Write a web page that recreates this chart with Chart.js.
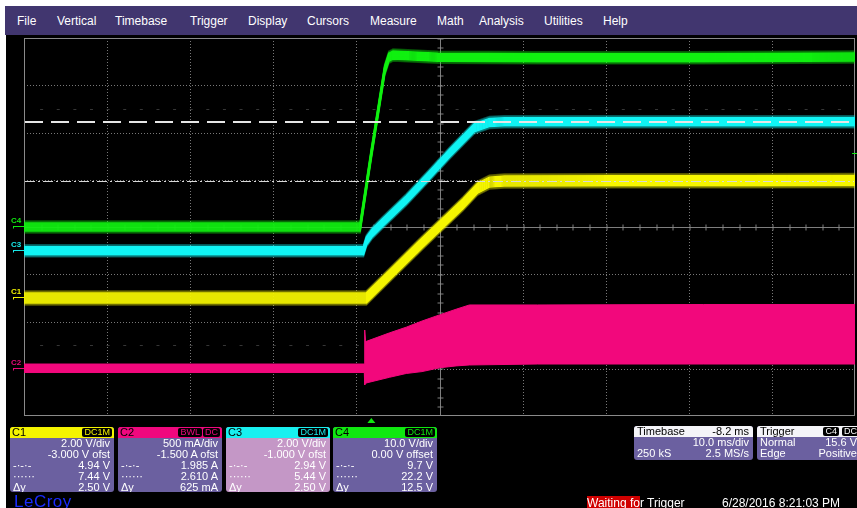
<!DOCTYPE html>
<html>
<head>
<meta charset="utf-8">
<script src="https://cdn.jsdelivr.net/npm/chart.js@4.4.0/dist/chart.umd.min.js"></script>
<style>
  html, body { margin: 0; padding: 0; background: #fff; }
  #scope { position: relative; width: 857px; height: 508px; overflow: hidden; background: #fff;
           font-family: "Liberation Sans", Arial, sans-serif; }
  #screen { position: absolute; left: 6px; top: 6px; width: 851px; height: 502px; background: #000; }
  #menu { position: absolute; left: 5px; top: 6px; width: 852px; height: 29px; background: #41366f; color: #fff; font-size: 12px; }
  #menu span { position: absolute; top: 8px; line-height: 14px; }
  #wave { position: absolute; left: 0; top: 0; }
  .ch { position: absolute; top: 427px; width: 104px; height: 65px; border-radius: 3px; background: #6b60a0;
        color: #fff; font-size: 11px; overflow: hidden; }
  .hd { height: 11px; line-height: 11px; color: #000; position: relative; }
  .hd .nm { position: absolute; left: 2px; top: 0; }
  .bd { position: absolute; top: 1px; height: 9px; line-height: 9px; font-size: 9px; background: #000;
        border-radius: 2px; padding: 0 2px; }
  .row { height: 11px; line-height: 11px; position: relative; }
  .row .r { position: absolute; right: 4px; }
  .row .l { position: absolute; left: 3px; }
  .box { position: absolute; top: 426px; height: 34px; border-radius: 3px; background: #6b60a0; color: #fff; font-size: 11px; overflow: hidden; }
  .box .row { height: 11px; }
  .box .hrow { background: #f4f4f8; color: #000; }
  #status { position: absolute; left: 587px; top: 497px; color: #fff; font-size: 12px; line-height: 13px; white-space: nowrap; }
  #status b { font-weight: normal; background: #d00000; }
  #date { position: absolute; left: 722px; top: 497px; color: #fff; font-size: 12px; line-height: 13px; white-space: nowrap; }
  #logo { position: absolute; left: 14px; top: 493px; color: #1a2cff; font-size: 17px; line-height: 17px; letter-spacing: 0.5px; }
</style>
</head>
<body>
<div id="scope">
  <div id="screen"></div>
  <canvas id="wave" width="857" height="508"></canvas>
  <div id="menu">
    <span style="left:12px">File</span>
    <span style="left:52px">Vertical</span>
    <span style="left:110px">Timebase</span>
    <span style="left:185px">Trigger</span>
    <span style="left:243px">Display</span>
    <span style="left:302px">Cursors</span>
    <span style="left:365px">Measure</span>
    <span style="left:432px">Math</span>
    <span style="left:474px">Analysis</span>
    <span style="left:539px">Utilities</span>
    <span style="left:598px">Help</span>
  </div>

  <div class="ch" style="left:10px">
    <div class="hd" style="background:#f4f400"><span class="nm">C1</span><span class="bd" style="right:2px;color:#f4f400">DC1M</span></div>
    <div class="row"><span class="r">2.00 V/div</span></div>
    <div class="row"><span class="r">-3.000 V ofst</span></div>
    <div class="row"><span class="l">-·-·-</span><span class="r">4.94 V</span></div>
    <div class="row"><span class="l">······</span><span class="r">7.44 V</span></div>
    <div class="row"><span class="l">Δy</span><span class="r">2.50 V</span></div>
  </div>
  <div class="ch" style="left:118px">
    <div class="hd" style="background:#f0087e"><span class="nm">C2</span><span class="bd" style="right:20px;color:#f0087e">BWL</span><span class="bd" style="right:2px;color:#f0087e">DC</span></div>
    <div class="row"><span class="r">500 mA/div</span></div>
    <div class="row"><span class="r">-1.500 A ofst</span></div>
    <div class="row"><span class="l">-·-·-</span><span class="r">1.985 A</span></div>
    <div class="row"><span class="l">······</span><span class="r">2.610 A</span></div>
    <div class="row"><span class="l">Δy</span><span class="r">625 mA</span></div>
  </div>
  <div class="ch" style="left:226px;background:#c497c6">
    <div class="hd" style="background:#18f0f0"><span class="nm">C3</span><span class="bd" style="right:2px;color:#18f0f0">DC1M</span></div>
    <div class="row"><span class="r">2.00 V/div</span></div>
    <div class="row"><span class="r">-1.000 V ofst</span></div>
    <div class="row"><span class="l">-·-·-</span><span class="r">2.94 V</span></div>
    <div class="row"><span class="l">······</span><span class="r">5.44 V</span></div>
    <div class="row"><span class="l">Δy</span><span class="r">2.50 V</span></div>
  </div>
  <div class="ch" style="left:333px">
    <div class="hd" style="background:#10e810"><span class="nm">C4</span><span class="bd" style="right:2px;color:#10e810">DC1M</span></div>
    <div class="row"><span class="r">10.0 V/div</span></div>
    <div class="row"><span class="r">0.00 V offset</span></div>
    <div class="row"><span class="l">-·-·-</span><span class="r">9.7 V</span></div>
    <div class="row"><span class="l">······</span><span class="r">22.2 V</span></div>
    <div class="row"><span class="l">Δy</span><span class="r">12.5 V</span></div>
  </div>

  <div class="box" style="left:634px;width:119px">
    <div class="row hrow"><span class="l">Timebase</span><span class="r">-8.2 ms</span></div>
    <div class="row"><span class="r">10.0 ms/div</span></div>
    <div class="row"><span class="l">250 kS</span><span class="r">2.5 MS/s</span></div>
  </div>
  <div class="box" style="left:757px;width:104px">
    <div class="row hrow"><span class="l">Trigger</span><span class="bd" style="right:22px;color:#fff">C4</span><span class="bd" style="right:2px;color:#fff">DC</span></div>
    <div class="row"><span class="l">Normal</span><span class="r">15.6 V</span></div>
    <div class="row"><span class="l">Edge</span><span class="r">Positive</span></div>
  </div>

  <div id="logo">LeCroy</div>
  <div id="status"><b>Waiting fo</b>r Trigger</div>
  <div id="date">6/28/2016 8:21:03 PM</div>
</div>

<script>
// Horizontal: 10 ms/div over 10 divisions, trigger delay -8.2 ms
const timeMin = -41.8;
const timeMax = 58.2;
const msPerDiv = 10;

// C1 (yellow) — volts
const c1Time  = [-41.8, -0.6, 2.2, 6.1, 11.0, 12.8, 14.2, 16.0, 30.0, 45.0, 58.2];
const c1Volts = [0.0, 0.0, 0.97, 2.32, 3.97, 4.65, 4.90, 4.95, 4.96, 4.96, 4.97];

// C3 (cyan) — volts
const c3Time  = [-41.8, -0.95, -0.6, 0.1, 1.3, 4.2, 7.0, 9.4, 12.4, 14.2, 16.0, 30.0, 45.0, 58.2];
const c3Volts = [0.0, 0.0, 0.40, 0.75, 1.17, 2.15, 3.20, 4.12, 5.20, 5.42, 5.45, 5.45, 5.46, 5.46];

// C4 (green) — volts
const c4Time  = [-41.8, -1.35, 0.0, 1.6, 2.1, 2.6, 5.0, 8.0, 20.0, 40.0, 58.2];
const c4Volts = [0.0, 0.0, 15.6, 33.2, 35.9, 36.4, 36.2, 35.9, 35.8, 35.8, 36.0];

// C2 (pink) — amps, ripple envelope (upper / lower)
const c2Time   = [-41.8, -0.85, -0.8, -0.7, -0.6, 2.2, 4.2, 6.1, 8.2, 10.2, 11.8, 20.0, 40.0, 58.2];
const c2UpperA = [0.05, 0.05, 0.41, 0.30, 0.29, 0.38, 0.44, 0.505, 0.57, 0.63, 0.675, 0.675, 0.68, 0.68];
const c2LowerA = [-0.04, -0.04, -0.17, -0.16, -0.15, -0.09, -0.05, -0.03, 0.01, 0.03, 0.04, 0.05, 0.05, 0.05];

// Cursor levels (C1 volts): dash-dot and dashed
const c1Cursors = [4.94, 7.44];
// Trigger: C4 edge at 15.6 V, t = 0
const triggerLevel = 15.6;
const triggerTime = 0;

// vertical settings per channel: volts/div and offset; screen spans ±4 div
function range(perDiv, offset) { return { min: -4 * perDiv - offset, max: 4 * perDiv - offset }; }
const c1Range = range(2.0, -3.0);
const c2Range = range(0.5, -1.5);
const c3Range = range(2.0, -1.0);
const c4Range = range(10.0, 0.0);

const pts = (t, v) => t.map((x, i) => ({ x, y: v[i] }));

// thick noisy trace: redraw the line shifted vertically so the band keeps its vertical height
const bandPlugin = {
  id: 'band',
  beforeDatasetDraw(chart, args) {
    const ds = chart.data.datasets[args.index];
    if (!ds.band) return;
    const { ctx, chartArea: a } = chart;
    const line = args.meta.dataset;
    ctx.save();
    ctx.beginPath();
    ctx.rect(a.left, a.top, a.right - a.left, a.bottom - a.top);
    ctx.clip();
    for (let dy = -ds.band - 2; dy <= ds.band + 2; dy++) {
      if (dy === 0) continue;
      ctx.save();
      ctx.globalAlpha = Math.abs(dy) > ds.band ? 0.35 : 1;
      ctx.translate(0, dy);
      line.draw(ctx, a);
      ctx.restore();
    }
    ctx.restore();
  }
};

const gridPlugin = {
  id: 'scopeGrid',
  beforeDatasetsDraw(chart) {
    const { ctx, chartArea: a, scales } = chart;
    const xs = scales.x, ys = scales.y4;
    const seg = (x1, y1, x2, y2) => { ctx.beginPath(); ctx.moveTo(x1, y1); ctx.lineTo(x2, y2); ctx.stroke(); };
    const cx = Math.round(xs.getPixelForValue(timeMin + 5 * msPerDiv)) + 0.5;
    const cy = Math.round(ys.getPixelForValue(0)) + 0.5;
    const divX = xs.getPixelForValue(timeMin + msPerDiv) - xs.getPixelForValue(timeMin);
    const divY = ys.getPixelForValue(0) - ys.getPixelForValue(10);
    ctx.save();
    ctx.lineWidth = 1;
    ctx.strokeStyle = 'rgba(150,150,150,0.8)';
    ctx.setLineDash([1, 2]);
    for (let i = 1; i < 10; i++) {
      if (i === 5) continue;
      const px = Math.round(xs.getPixelForValue(timeMin + i * msPerDiv)) + 0.5;
      seg(px, a.top, px, a.bottom);
    }
    for (let j = -3; j <= 3; j++) {
      if (j === 0) continue;
      const py = Math.round(ys.getPixelForValue(j * 10)) + 0.5;
      seg(a.left, py, a.right, py);
    }
    ctx.setLineDash([]);
    ctx.strokeStyle = 'rgba(140,140,140,0.9)';
    seg(cx, a.top, cx, a.bottom);
    seg(a.left, cy, a.right, cy);
    // minor ticks on the centre cross, 5 per division
    for (let k = -25; k <= 25; k++) {
      const px = Math.round(cx + k * divX / 5);
      if (px > a.left && px < a.right) seg(px, cy - 3, px, cy + 3);
    }
    for (let k = -20; k <= 20; k++) {
      const py = Math.round(cy + k * divY / 5);
      if (py > a.top && py < a.bottom) seg(cx - 3, py, cx + 3, py);
    }
    // faint marks at ±2.5 div
    ctx.strokeStyle = 'rgba(90,90,90,0.6)';
    [25, -25].forEach(v => {
      const py = Math.round(ys.getPixelForValue(v)) + 0.5;
      for (let k = -25; k <= 25; k++) {
        const px = cx + k * divX / 5;
        if (px > a.left + 2 && px < a.right - 2 && k !== 0) seg(px - 1.5, py, px + 1.5, py);
      }
    });
    // frame
    ctx.strokeStyle = '#8a8a8a';
    ctx.strokeRect(a.left + 0.5, a.top + 0.5, a.right - a.left - 1, a.bottom - a.top - 1);
    ctx.restore();
  },
  afterDatasetsDraw(chart) {
    const { ctx, chartArea: a, scales } = chart;
    const seg = (x1, y1, x2, y2) => { ctx.beginPath(); ctx.moveTo(x1, y1); ctx.lineTo(x2, y2); ctx.stroke(); };
    ctx.save();
    // cursors
    const yDashDot = Math.round(scales.y1.getPixelForValue(c1Cursors[0])) + 0.5;
    const yDash = Math.round(scales.y1.getPixelForValue(c1Cursors[1]));
    ctx.strokeStyle = '#d8d8d8';
    ctx.lineWidth = 1;
    ctx.setLineDash([10, 3, 2, 3]);
    seg(a.left + 1, yDashDot, a.right - 1, yDashDot);
    ctx.lineWidth = 2;
    ctx.strokeStyle = '#e6e6e6';
    ctx.setLineDash([18, 8]);
    seg(a.left + 1, yDash, a.right - 1, yDash);
    ctx.setLineDash([]);
    ctx.lineWidth = 1;

    // channel ground markers at the left edge
    const marks = [
      ['C4', scales.y4, '#10e810'],
      ['C3', scales.y3, '#18e8e8'],
      ['C1', scales.y1, '#f0f000'],
      ['C2', scales.y2, '#e8087a']
    ];
    ctx.font = 'bold 8px "Liberation Sans", Arial, sans-serif';
    ctx.textBaseline = 'bottom';
    marks.forEach(([name, sc, col]) => {
      const py = Math.round(sc.getPixelForValue(0)) - 0.5;
      ctx.fillStyle = col;
      ctx.strokeStyle = col;
      ctx.fillText(name, 11, py - 2);
      seg(13, py, a.left, py);
      seg(13.5, py, 13.5, py + 2);
    });

    // trigger time and level markers
    const tx = scales.x.getPixelForValue(triggerTime);
    ctx.fillStyle = '#10e810';
    ctx.beginPath();
    ctx.moveTo(tx - 4, a.bottom + 7);
    ctx.lineTo(tx + 4, a.bottom + 7);
    ctx.lineTo(tx, a.bottom + 2);
    ctx.closePath();
    ctx.fill();
    const ty = Math.round(scales.y4.getPixelForValue(triggerLevel)) + 0.5;
    ctx.strokeStyle = '#10e810';
    seg(a.right - 3, ty, a.right + 2, ty);
    ctx.restore();
  }
};

const hiddenY = r => ({ type: 'linear', display: false, min: r.min, max: r.max });

new Chart(document.getElementById('wave'), {
  type: 'line',
  data: {
    datasets: [
      { label: 'C4', data: pts(c4Time, c4Volts), yAxisID: 'y4', borderColor: '#10f010', borderWidth: 1.5, band: 4 },
      { label: 'C3', data: pts(c3Time, c3Volts), yAxisID: 'y3', borderColor: '#10f4f4', borderWidth: 1.5, band: 4 },
      { label: 'C1', data: pts(c1Time, c1Volts), yAxisID: 'y1', borderColor: '#f6f600', borderWidth: 1.5, band: 5 },
      { label: 'C2 upper', data: pts(c2Time, c2UpperA), yAxisID: 'y2', borderColor: '#f2087c', backgroundColor: '#f2087c', borderWidth: 1, fill: '+1' },
      { label: 'C2 lower', data: pts(c2Time, c2LowerA), yAxisID: 'y2', borderColor: '#f2087c', borderWidth: 1, fill: false }
    ]
  },
  options: {
    responsive: false,
    animation: false,
    devicePixelRatio: 1,
    layout: { padding: { left: 24, top: 38, right: 2, bottom: 92 } },
    elements: { point: { radius: 0 }, line: { tension: 0 } },
    plugins: { legend: { display: false }, tooltip: { enabled: false } },
    scales: {
      x: { type: 'linear', display: false, min: timeMin, max: timeMax },
      y1: hiddenY(c1Range),
      y2: hiddenY(c2Range),
      y3: hiddenY(c3Range),
      y4: hiddenY(c4Range)
    }
  },
  plugins: [gridPlugin, bandPlugin]
});
</script>
</body>
</html>
